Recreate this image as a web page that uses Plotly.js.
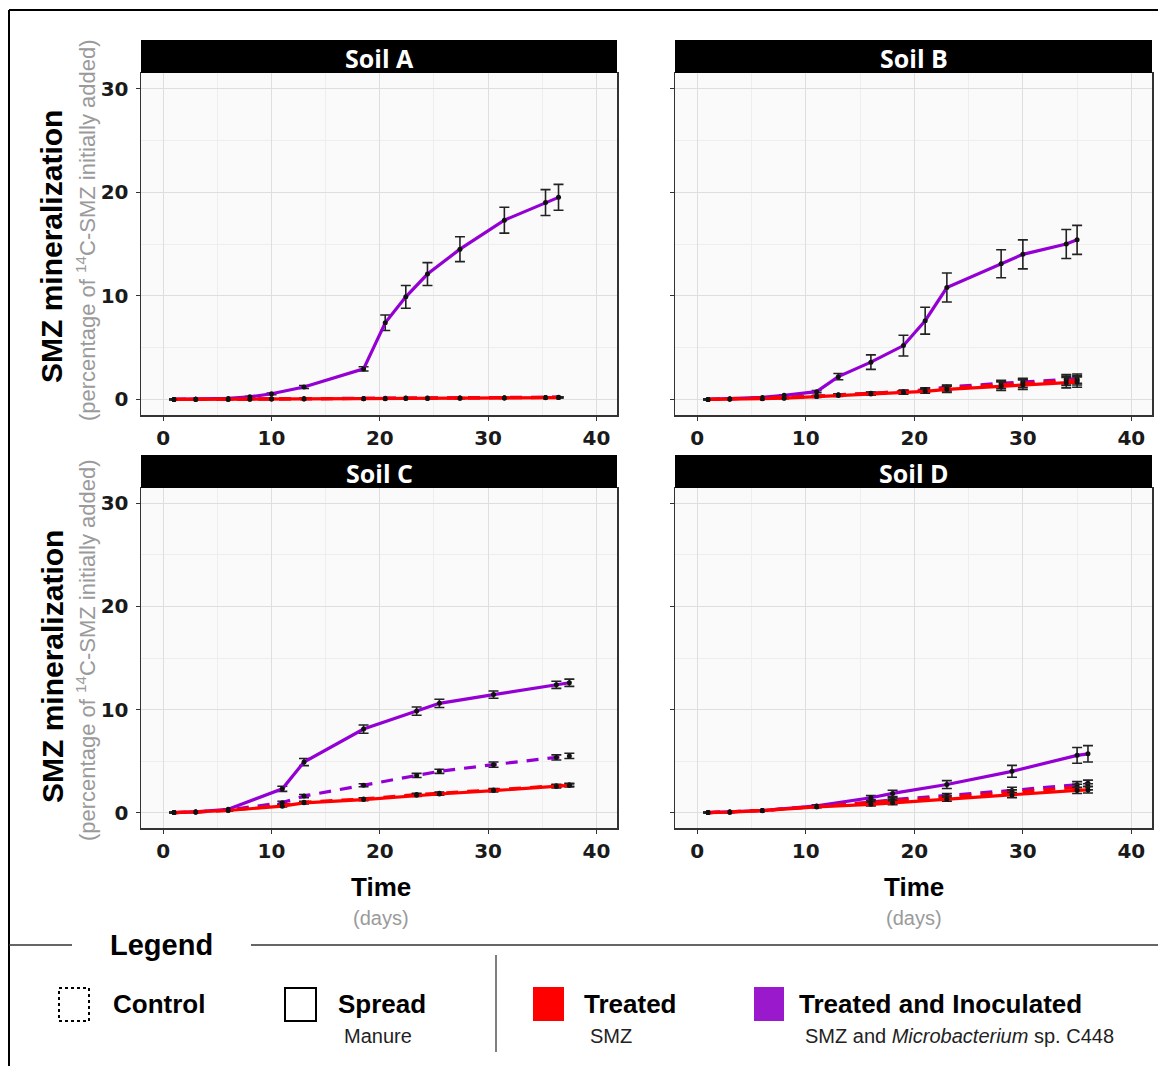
<!DOCTYPE html>
<html>
<head>
<meta charset="utf-8">
<script src="https://cdn.plot.ly/plotly-3.0.1.min.js"></script>
<style>html,body{margin:0;padding:0;background:#fff;}#chart{width:1158px;height:1066px;}</style>
</head>
<body>
<div id="chart"></div>
<script>
// ---------- DATA ----------
const panelTitles = ["Soil A", "Soil B", "Soil C", "Soil D"];
const xTickVals = [0, 10, 20, 30, 40];
const yTickVals = [0, 10, 20, 30];

// Soil A
const daysA = [1, 3, 6, 8, 10, 13, 18.5, 20.5, 22.4, 24.4, 27.4, 31.5, 35.3, 36.5];
const A_inocSpread = [0, 0.02, 0.1, 0.25, 0.55, 1.2, 2.95, 7.4, 9.9, 12.1, 14.5, 17.3, 19.0, 19.5];
const A_inocSpreadErr = [0.03, 0.03, 0.05, 0.05, 0.08, 0.15, 0.2, 0.75, 1.1, 1.1, 1.2, 1.25, 1.25, 1.25];
const A_inocControl = [0, 0.01, 0.03, 0.05, 0.07, 0.08, 0.1, 0.12, 0.13, 0.14, 0.15, 0.17, 0.2, 0.22];
const A_inocControlErr = [0.02, 0.02, 0.02, 0.02, 0.02, 0.03, 0.03, 0.03, 0.03, 0.03, 0.03, 0.04, 0.04, 0.04];
const A_trtControl = [0, 0.01, 0.02, 0.04, 0.05, 0.06, 0.08, 0.1, 0.11, 0.12, 0.13, 0.15, 0.18, 0.2];
const A_trtControlErr = [0.02, 0.02, 0.02, 0.02, 0.02, 0.03, 0.03, 0.03, 0.03, 0.03, 0.03, 0.04, 0.04, 0.04];
const A_trtSpread = [0, 0.01, 0.02, 0.03, 0.04, 0.05, 0.07, 0.08, 0.09, 0.1, 0.11, 0.13, 0.16, 0.18];
const A_trtSpreadErr = [0.02, 0.02, 0.02, 0.02, 0.02, 0.03, 0.03, 0.03, 0.03, 0.03, 0.03, 0.04, 0.04, 0.04];

// Soil B
const daysB = [1, 3, 6, 8, 11, 13, 16, 19, 21, 23, 28, 30, 34, 35];
const B_inocSpread = [0, 0.05, 0.2, 0.4, 0.75, 2.2, 3.6, 5.2, 7.6, 10.8, 13.1, 14.0, 15.0, 15.4];
const B_inocSpreadErr = [0.03, 0.03, 0.05, 0.06, 0.1, 0.3, 0.7, 1.0, 1.3, 1.4, 1.35, 1.4, 1.4, 1.4];
const B_inocControl = [0, 0.05, 0.1, 0.2, 0.3, 0.45, 0.6, 0.75, 0.95, 1.2, 1.55, 1.7, 1.95, 2.0];
const B_inocControlErr = [0.03, 0.03, 0.05, 0.05, 0.08, 0.1, 0.12, 0.15, 0.18, 0.2, 0.3, 0.35, 0.45, 0.45];
const B_trtControl = [0, 0.05, 0.1, 0.15, 0.3, 0.42, 0.58, 0.72, 0.88, 1.08, 1.4, 1.55, 1.8, 1.85];
const B_trtControlErr = [0.02, 0.02, 0.03, 0.04, 0.08, 0.1, 0.12, 0.15, 0.18, 0.25, 0.35, 0.4, 0.45, 0.45];
const B_trtSpread = [0, 0.04, 0.08, 0.12, 0.28, 0.38, 0.52, 0.66, 0.78, 0.98, 1.28, 1.42, 1.62, 1.68];
const B_trtSpreadErr = [0.02, 0.02, 0.03, 0.04, 0.08, 0.1, 0.12, 0.15, 0.18, 0.3, 0.4, 0.45, 0.5, 0.5];

// Soil C
const daysC = [1, 3, 6, 11, 13, 18.5, 23.4, 25.5, 30.5, 36.3, 37.5];
const C_inocSpread = [0, 0.06, 0.32, 2.3, 4.9, 8.1, 9.85, 10.6, 11.45, 12.4, 12.6];
const C_inocSpreadErr = [0.03, 0.03, 0.05, 0.25, 0.35, 0.4, 0.4, 0.4, 0.35, 0.35, 0.35];
const C_inocControl = [0, 0.05, 0.25, 0.96, 1.6, 2.65, 3.6, 4.0, 4.65, 5.35, 5.5];
const C_inocControlErr = [0.02, 0.03, 0.05, 0.12, 0.15, 0.15, 0.2, 0.2, 0.25, 0.25, 0.25];
const C_trtControl = [0, 0.05, 0.22, 0.7, 1.0, 1.32, 1.75, 1.87, 2.2, 2.6, 2.7];
const C_trtControlErr = [0.02, 0.02, 0.04, 0.08, 0.1, 0.1, 0.12, 0.12, 0.12, 0.15, 0.15];
const C_trtSpread = [0, 0.05, 0.2, 0.62, 0.94, 1.26, 1.68, 1.8, 2.13, 2.54, 2.63];
const C_trtSpreadErr = [0.02, 0.02, 0.04, 0.08, 0.1, 0.1, 0.12, 0.12, 0.12, 0.15, 0.15];

// Soil D
const daysD = [1, 3, 6, 11, 16, 18, 23, 29, 35, 36];
const D_inocSpread = [0, 0.05, 0.2, 0.64, 1.44, 1.86, 2.72, 4.0, 5.55, 5.7];
const D_inocSpreadErr = [0.02, 0.03, 0.05, 0.1, 0.2, 0.3, 0.38, 0.58, 0.77, 0.8];
const D_inocControl = [0, 0.05, 0.2, 0.6, 1.0, 1.25, 1.65, 2.15, 2.7, 2.85];
const D_inocControlErr = [0.02, 0.02, 0.04, 0.08, 0.15, 0.2, 0.2, 0.3, 0.3, 0.3];
const D_trtControl = [0, 0.05, 0.2, 0.58, 0.95, 1.1, 1.45, 1.95, 2.45, 2.5];
const D_trtControlErr = [0.02, 0.02, 0.04, 0.08, 0.15, 0.2, 0.2, 0.25, 0.3, 0.3];
const D_trtSpread = [0, 0.04, 0.18, 0.55, 0.8, 0.95, 1.3, 1.7, 2.15, 2.2];
const D_trtSpreadErr = [0.02, 0.02, 0.04, 0.08, 0.15, 0.2, 0.2, 0.25, 0.3, 0.3];

// ---------- STYLE ----------
const W = 1158, H = 1066;
const PURPLE = "#9400D3", RED = "#FF0000";
const X = p => p / W;
const Y = p => 1 - p / H;

const panels = [
  {xa: "x", ya: "y", days: daysA, s: [[A_inocControl, A_inocControlErr], [A_inocSpread, A_inocSpreadErr], [A_trtControl, A_trtControlErr], [A_trtSpread, A_trtSpreadErr]]},
  {xa: "x2", ya: "y2", days: daysB, s: [[B_inocControl, B_inocControlErr], [B_inocSpread, B_inocSpreadErr], [B_trtControl, B_trtControlErr], [B_trtSpread, B_trtSpreadErr]]},
  {xa: "x3", ya: "y3", days: daysC, s: [[C_inocControl, C_inocControlErr], [C_inocSpread, C_inocSpreadErr], [C_trtControl, C_trtControlErr], [C_trtSpread, C_trtSpreadErr]]},
  {xa: "x4", ya: "y4", days: daysD, s: [[D_inocControl, D_inocControlErr], [D_inocSpread, D_inocSpreadErr], [D_trtControl, D_trtControlErr], [D_trtSpread, D_trtSpreadErr]]}
];
const seriesStyle = [
  {color: PURPLE, dash: "12px,9px"},
  {color: PURPLE, dash: "solid"},
  {color: RED, dash: "12px,9px"},
  {color: RED, dash: "solid"}
];

const traces = [];
panels.forEach(p => {
  p.s.forEach((ser, i) => {
    traces.push({
      type: "scatter", mode: "lines+markers",
      x: p.days, y: ser[0], xaxis: p.xa, yaxis: p.ya,
      line: {color: seriesStyle[i].color, width: 3.2, dash: seriesStyle[i].dash},
      marker: {color: "#111", size: 5},
      error_y: {type: "data", array: ser[1], visible: true, color: "#222", thickness: 1.6, width: 5},
      showlegend: false, hoverinfo: "skip"
    });
  });
});

const tickFont = {family: "DejaVu Sans", size: 20, color: "#1a1a1a", weight: "bold"};
function xAxis(l, r, showLabels) {
  return {
    domain: [X(l), X(r)], range: [-2.05, 41.9], tickmode: "array", tickvals: xTickVals,
    showgrid: true, gridcolor: "#dedede", gridwidth: 1,
    minor: {dtick: 5, tick0: 0, showgrid: true, gridcolor: "#eeeeee", gridwidth: 1, ticks: ""},
    showline: true, mirror: true, linecolor: "#333", linewidth: 1.5,
    ticks: "outside", ticklen: 4, tickcolor: "#333", tickwidth: 1,
    zeroline: false, showticklabels: showLabels, tickfont: tickFont, ticklabelstandoff: 0, fixedrange: true
  };
}
function yAxis(t, b, showLabels) {
  return {
    domain: [Y(b), Y(t)], range: [-1.5, 31.5], tickmode: "array", tickvals: yTickVals,
    showgrid: true, gridcolor: "#dedede", gridwidth: 1,
    minor: {dtick: 5, tick0: 0, showgrid: true, gridcolor: "#eeeeee", gridwidth: 1, ticks: ""},
    showline: true, mirror: true, linecolor: "#333", linewidth: 1.5,
    ticks: "outside", ticklen: 4, tickcolor: "#333", tickwidth: 1,
    zeroline: false, showticklabels: showLabels, tickfont: tickFont, ticklabelstandoff: 3, fixedrange: true
  };
}

const L1 = 141, R1 = 617, L2 = 675, R2 = 1152;
const T1 = 73, B1 = 415, T2 = 488, B2 = 828;

const shapes = [];
const annotations = [];
function rect(x0, y0, x1, y1, fill, line) {
  shapes.push({type: "rect", xref: "paper", yref: "paper", x0: X(x0), x1: X(x1), y0: Y(y1), y1: Y(y0),
    fillcolor: fill, line: line || {width: 0}, layer: "above"});
}
function seg(x0, y0, x1, y1, color, width, dash) {
  shapes.push({type: "line", xref: "paper", yref: "paper", x0: X(x0), x1: X(x1), y0: Y(y0), y1: Y(y1),
    line: {color: color, width: width, dash: dash || "solid"}, layer: "above"});
}
function txt(text, x, y, font, xanchor, angle) {
  annotations.push({text: text, xref: "paper", yref: "paper", x: X(x), y: Y(y), showarrow: false,
    xanchor: xanchor || "center", yanchor: "middle", font: font, textangle: angle || 0});
}

// strips
const strips = [[L1, R1, 40, T1], [L2, R2, 40, T1], [L1, R1, 455, T2], [L2, R2, 455, T2]];
strips.forEach((s, i) => {
  rect(s[0], s[2], s[1], s[3], "#000000");
  txt(panelTitles[i], (s[0] + s[1]) / 2, (s[2] + s[3]) / 2 + 1, {family: "Open Sans", size: 25, color: "#fff", weight: "bold"});
});

// outer frame
seg(9, 10, W, 10, "#000", 2);
seg(9, 10, 9, H, "#000", 2);

// axis titles
const boldTitle = {family: "Liberation Sans", size: 30, color: "#000", weight: "bold"};
const greyTitle = {family: "Liberation Sans", size: 22, color: "#9a9a9a"};
txt("SMZ mineralization", 52, 247, boldTitle, "center", -90);
txt("(percentage of <sup>14</sup>C-SMZ initially added)", 86, 230, greyTitle, "center", -90);
txt("SMZ mineralization", 52, 667, boldTitle, "center", -90);
txt("(percentage of <sup>14</sup>C-SMZ initially added)", 86, 650, greyTitle, "center", -90);
const timeFont = {family: "Liberation Sans", size: 26, color: "#000", weight: "bold"};
const daysFont = {family: "Liberation Sans", size: 20, color: "#9a9a9a"};
txt("Time", 381, 887, timeFont);
txt("(days)", 381, 918, daysFont);
txt("Time", 914, 887, timeFont);
txt("(days)", 914, 918, daysFont);

// legend
seg(9, 945, 72, 945, "#333", 1.5);
seg(251, 945, W, 945, "#333", 1.5);
txt("Legend", 161, 945, {family: "Liberation Sans", size: 29, color: "#000", weight: "bold"});
seg(496, 955, 496, 1052, "#555", 1.5);
rect(59, 988, 89, 1021, "rgba(0,0,0,0)", {color: "#000", width: 2, dash: "dot"});
rect(285, 988, 316, 1021, "rgba(0,0,0,0)", {color: "#000", width: 2});
rect(533, 987, 564, 1021, RED);
rect(754, 987, 784, 1021, "#9B19CC");
const legFont = {family: "Liberation Sans", size: 26, color: "#000", weight: "bold"};
const subFont = {family: "Liberation Sans", size: 20, color: "#222"};
txt("Control", 111, 1004, legFont, "left");
txt("Spread", 336, 1004, legFont, "left");
txt("Manure", 342, 1036, subFont, "left");
txt("Treated", 582, 1004, legFont, "left");
txt("SMZ", 588, 1036, subFont, "left");
txt("Treated and Inoculated", 797, 1004, legFont, "left");
txt("SMZ and <i>Microbacterium</i> sp. C448", 803, 1036, subFont, "left");

const layout = {
  width: W, height: H, margin: {l: 0, r: 0, t: 0, b: 0},
  paper_bgcolor: "#ffffff", plot_bgcolor: "#fafafa", showlegend: false,
  xaxis: xAxis(L1, R1, true), yaxis: yAxis(T1, B1, true),
  xaxis2: xAxis(L2, R2, true), yaxis2: yAxis(T1, B1, false),
  xaxis3: xAxis(L1, R1, true), yaxis3: yAxis(T2, B2, true),
  xaxis4: xAxis(L2, R2, true), yaxis4: yAxis(T2, B2, false),
  shapes: shapes, annotations: annotations
};
layout.xaxis2.anchor = "y2"; layout.yaxis2.anchor = "x2";
layout.xaxis3.anchor = "y3"; layout.yaxis3.anchor = "x3";
layout.xaxis4.anchor = "y4"; layout.yaxis4.anchor = "x4";
layout.xaxis.anchor = "y"; layout.yaxis.anchor = "x";

Plotly.newPlot("chart", traces, layout, {displayModeBar: false, staticPlot: true});
</script>
</body>
</html>
